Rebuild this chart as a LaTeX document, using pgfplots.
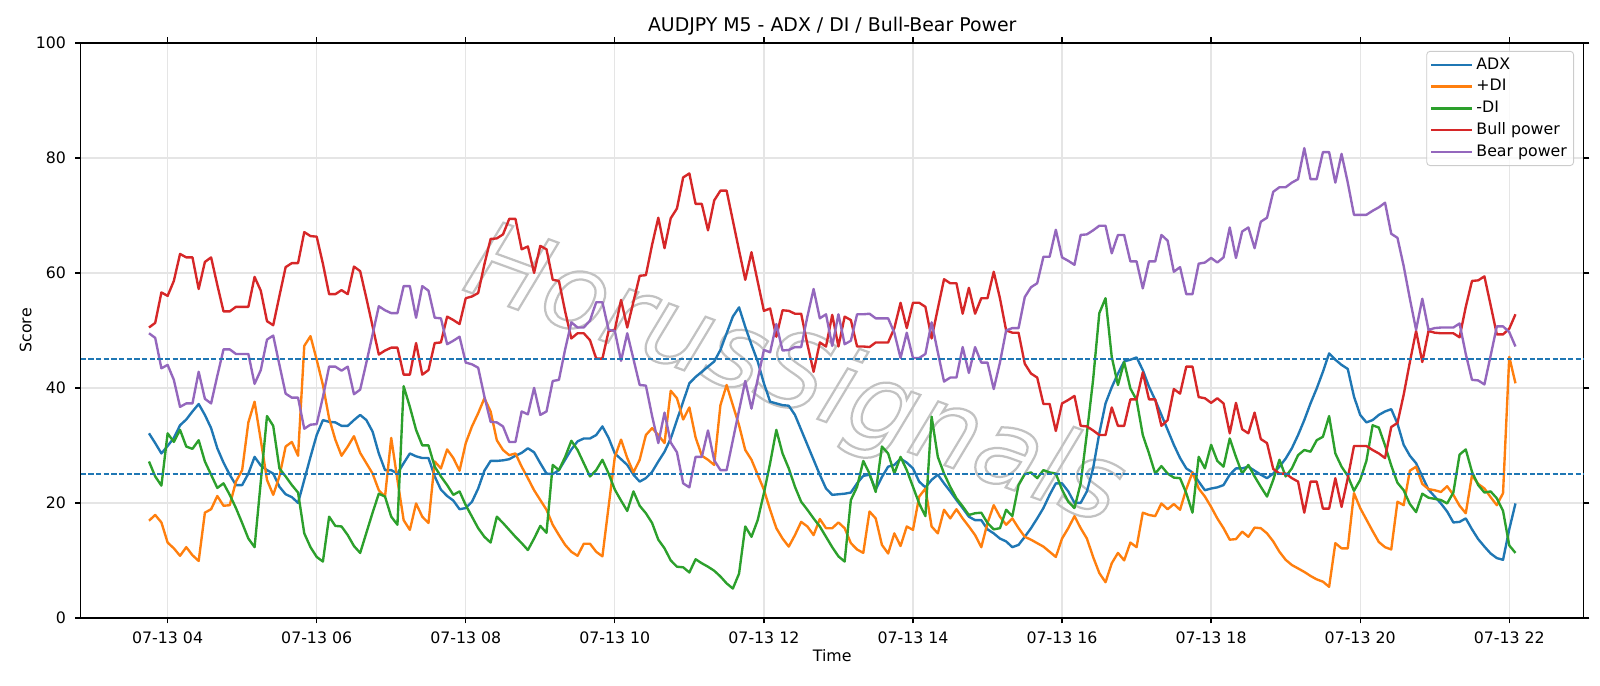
\documentclass[border=0pt]{standalone}
\usepackage{fontspec}
\setmainfont{DejaVu Sans}
\usepackage{pgfplots}
\pgfplotsset{compat=1.18}
\usepackage{pgfplotstable}
\definecolor{tabblue}{HTML}{1F77B4}
\definecolor{taborange}{HTML}{FF7F0E}
\definecolor{tabgreen}{HTML}{2CA02C}
\definecolor{tabred}{HTML}{D62728}
\definecolor{tabpurple}{HTML}{9467BD}

\pgfplotstableread{
i adx pdi mdi bull bear
0 32.1 16.9 27.2 50.5 49.5
1 30.4 17.9 24.6 51.3 48.7
2 28.6 16.6 23.0 56.6 43.4
3 29.9 13.1 32.1 56.0 44.0
4 31.3 12.1 30.6 58.6 41.4
5 33.5 10.8 32.7 63.3 36.7
6 34.5 12.3 29.8 62.7 37.3
7 35.9 10.9 29.4 62.7 37.3
8 37.2 9.9 30.9 57.2 42.8
9 35.3 18.3 27.2 61.9 38.1
10 33.0 18.9 24.9 62.7 37.3
11 29.5 21.2 22.6 57.9 42.1
12 27.0 19.5 23.4 53.3 46.7
13 24.9 19.6 21.4 53.3 46.7
14 23.1 23.7 19.1 54.1 45.9
15 23.1 25.7 16.5 54.1 45.9
16 25.1 34.0 13.8 54.1 45.9
17 28.0 37.6 12.3 59.3 40.7
18 26.5 30.9 23.7 56.9 43.1
19 25.7 24.0 35.1 51.6 48.4
20 25.1 21.4 33.4 50.9 49.1
21 22.8 24.6 26.0 56.0 44.0
22 21.5 29.8 24.6 61.0 39.0
23 21.0 30.6 23.1 61.7 38.3
24 20.0 28.2 21.8 61.7 38.3
25 24.0 47.3 14.7 67.1 32.9
26 28.0 49.0 12.3 66.4 33.6
27 31.8 44.9 10.6 66.3 33.7
28 34.4 40.5 9.8 61.6 38.4
29 34.1 34.7 17.6 56.3 43.7
30 34.0 31.0 16.0 56.3 43.7
31 33.4 28.2 15.9 57.0 43.0
32 33.4 29.8 14.4 56.3 43.7
33 34.4 31.6 12.5 61.1 38.9
34 35.3 28.7 11.3 60.3 39.7
35 34.4 26.9 14.8 55.6 44.4
36 32.4 25.1 18.3 50.7 49.3
37 28.6 22.2 21.6 45.8 54.2
38 25.7 21.1 21.1 46.5 53.5
39 25.7 31.3 17.6 47.0 53.0
40 25.1 24.0 16.2 47.0 53.0
41 26.9 17.0 40.3 42.3 57.7
42 28.6 15.3 36.7 42.3 57.7
43 28.1 19.9 32.7 47.8 52.2
44 27.8 17.6 30.0 42.3 57.7
45 27.8 16.5 30.0 43.1 56.9
46 24.6 27.2 26.3 47.8 52.2
47 22.3 26.0 24.6 47.9 52.1
48 21.2 29.3 23.1 52.4 47.6
49 20.4 27.8 21.4 51.8 48.2
50 18.9 25.6 22.0 51.1 48.9
51 19.1 30.4 19.6 55.6 44.4
52 20.2 33.3 17.6 55.9 44.1
53 22.5 35.6 15.6 56.5 43.5
54 25.6 38.2 14.1 61.5 38.5
55 27.3 35.9 13.1 65.9 34.1
56 27.3 30.9 17.6 66.0 34.0
57 27.4 29.2 16.5 66.7 33.3
58 27.6 28.3 15.3 69.4 30.6
59 28.2 28.6 14.1 69.4 30.6
60 28.7 26.3 13.0 64.1 35.9
61 29.5 24.3 11.8 64.6 35.4
62 28.8 22.2 13.8 60.0 40.0
63 26.9 20.5 16.0 64.7 35.3
64 25.1 18.8 14.8 64.1 35.9
65 25.0 16.2 26.6 58.8 41.2
66 25.7 14.4 25.7 58.6 41.4
67 27.5 12.7 28.0 53.3 46.7
68 29.3 11.5 30.8 48.6 51.4
69 30.7 10.8 29.2 49.5 50.5
70 31.2 12.9 26.9 49.5 50.5
71 31.2 12.9 24.6 48.3 51.7
72 31.8 11.5 25.7 45.1 54.9
73 33.3 10.7 27.5 45.1 54.9
74 31.3 19.4 25.1 49.9 50.1
75 28.6 28.0 22.3 50.1 49.9
76 27.6 31.0 20.4 55.3 44.7
77 26.6 27.8 18.6 50.5 49.5
78 24.9 25.3 22.0 55.0 45.0
79 23.7 27.5 19.5 59.5 40.5
80 24.3 31.8 18.2 59.6 40.4
81 25.4 33.0 16.5 64.9 35.1
82 27.2 31.8 13.6 69.6 30.4
83 28.9 30.4 12.1 64.3 35.7
84 31.2 39.5 10.0 69.5 30.5
85 34.4 38.2 8.9 71.2 28.8
86 37.6 34.5 8.8 76.6 23.4
87 40.8 36.6 7.9 77.3 22.7
88 41.9 31.4 10.2 72.0 28.0
89 42.8 28.2 9.5 72.0 28.0
90 43.7 27.5 8.9 67.4 32.6
91 44.6 26.6 8.2 72.6 27.4
92 46.6 37.0 7.2 74.3 25.7
93 49.5 40.5 6.0 74.3 25.7
94 52.4 37.0 5.1 69.1 30.9
95 54.0 33.5 7.7 63.9 36.1
96 50.6 29.2 15.9 58.8 41.2
97 47.5 27.5 14.1 63.6 36.4
98 44.6 24.9 17.0 58.5 41.5
99 40.8 22.3 21.7 53.4 46.6
100 37.6 18.8 26.9 53.8 46.2
101 37.3 15.6 32.7 48.9 51.1
102 37.0 13.8 28.6 53.5 46.5
103 36.9 12.4 26.0 53.4 46.6
104 35.3 14.4 22.8 52.9 47.1
105 32.7 16.7 20.2 52.9 47.1
106 30.1 15.9 18.8 47.6 52.4
107 27.5 14.4 17.3 42.8 57.2
108 24.9 17.2 15.9 47.9 52.1
109 22.5 15.6 14.1 47.2 52.8
110 21.4 15.6 12.3 52.7 47.3
111 21.5 16.6 10.7 47.2 52.8
112 21.6 15.6 9.8 52.4 47.6
113 21.8 13.0 20.5 51.8 48.2
114 23.4 11.9 22.8 47.2 52.8
115 24.7 11.3 27.3 47.2 52.8
116 24.9 18.5 25.1 47.1 52.9
117 22.3 17.3 21.9 47.9 52.1
118 24.5 12.7 29.8 47.9 52.1
119 26.3 11.2 28.6 47.9 52.1
120 26.6 14.7 25.1 50.4 49.6
121 27.7 12.5 28.0 54.8 45.2
122 27.0 15.9 25.7 50.4 49.6
123 26.0 15.3 22.8 54.8 45.2
124 23.7 21.1 19.9 54.8 45.2
125 22.7 22.5 17.7 54.1 45.9
126 24.0 15.9 35.0 48.6 51.4
127 24.9 14.7 28.0 53.8 46.2
128 23.4 18.8 25.1 58.9 41.1
129 22.0 17.3 22.8 58.2 41.8
130 20.5 18.9 20.8 58.2 41.8
131 19.1 17.3 19.4 52.9 47.1
132 17.6 15.9 17.9 57.4 42.6
133 17.0 14.4 18.2 52.9 47.1
134 17.0 12.3 18.3 55.6 44.4
135 15.4 16.5 16.5 55.6 44.4
136 14.7 19.6 15.4 60.2 39.8
137 13.8 17.6 15.6 55.6 44.4
138 13.3 16.2 18.8 50.0 50.0
139 12.3 17.3 17.7 49.6 50.4
140 12.7 15.6 23.1 49.6 50.4
141 14.1 14.1 25.0 44.2 55.8
142 15.6 13.6 25.3 42.5 57.5
143 17.3 13.0 24.3 41.8 58.2
144 19.1 12.4 25.7 37.2 62.8
145 21.4 11.5 25.3 37.2 62.8
146 23.4 10.6 25.1 32.5 67.5
147 23.4 13.8 22.3 37.3 62.7
148 22.0 15.6 20.2 37.9 62.1
149 20.0 17.7 19.1 38.6 61.4
150 20.0 15.6 23.4 33.4 66.6
151 22.0 13.8 32.1 33.3 66.7
152 26.0 10.6 41.4 32.6 67.4
153 32.1 7.8 53.0 31.8 68.2
154 37.3 6.2 55.6 31.8 68.2
155 40.1 9.5 45.4 36.6 63.4
156 42.5 11.3 40.5 33.4 66.6
157 44.6 10.0 44.5 33.4 66.6
158 44.9 13.1 39.9 38.0 62.0
159 45.3 12.3 37.9 38.0 62.0
160 43.1 18.3 31.8 42.7 57.3
161 40.2 17.9 28.6 38.0 62.0
162 37.9 17.7 25.1 38.0 62.0
163 35.3 19.9 26.4 33.4 66.6
164 32.7 18.9 25.1 34.4 65.6
165 30.1 19.8 24.4 39.8 60.2
166 27.8 18.8 24.3 39.0 61.0
167 26.0 22.4 21.7 43.7 56.3
168 25.3 25.3 18.3 43.7 56.3
169 23.7 22.5 28.0 38.4 61.6
170 22.2 21.1 26.0 38.2 61.8
171 22.5 19.3 30.1 37.4 62.6
172 22.7 17.3 27.3 38.2 61.8
173 23.1 15.6 26.3 37.3 62.7
174 24.9 13.6 31.2 32.1 67.9
175 26.0 13.7 28.0 37.4 62.6
176 26.0 15.0 25.1 32.8 67.2
177 26.3 14.1 26.6 32.1 67.9
178 25.6 15.7 24.6 35.7 64.3
179 24.9 15.6 22.8 31.1 68.9
180 24.3 14.7 21.1 30.4 69.6
181 25.1 13.3 24.0 25.9 74.1
182 26.3 11.5 27.5 25.1 74.9
183 27.7 10.1 24.6 25.1 74.9
184 29.5 9.2 26.0 24.3 75.7
185 31.8 8.6 28.3 23.7 76.3
186 34.4 8.0 29.2 18.3 81.7
187 37.3 7.3 28.9 23.7 76.3
188 39.9 6.7 30.9 23.7 76.3
189 42.8 6.3 31.5 19.0 81.0
190 46.0 5.4 35.1 19.0 81.0
191 44.9 13.0 28.6 24.3 75.7
192 44.0 12.1 26.3 19.3 80.7
193 43.3 12.1 24.7 24.3 75.7
194 38.5 21.7 22.1 29.9 70.1
195 35.3 19.1 24.0 29.9 70.1
196 34.0 17.1 27.3 29.9 70.1
197 34.4 15.1 33.5 29.2 70.8
198 35.3 13.2 33.1 28.6 71.4
199 35.9 12.3 30.0 27.8 72.2
200 36.3 11.9 26.5 33.2 66.8
201 33.8 20.2 23.5 33.9 66.1
202 30.1 19.6 22.2 38.8 61.2
203 28.2 25.6 19.8 44.5 55.5
204 26.9 26.3 18.4 49.9 50.1
205 24.6 23.3 21.6 44.5 55.5
206 22.3 22.4 20.9 49.9 50.1
207 21.1 22.2 20.7 49.6 50.4
208 19.9 21.9 20.5 49.5 50.5
209 18.5 22.9 19.9 49.5 50.5
210 16.6 21.4 21.8 49.5 50.5
211 16.7 19.5 28.4 48.8 51.2
212 17.3 18.2 29.3 54.1 45.9
213 15.4 24.8 25.4 58.6 41.4
214 13.7 23.3 23.1 58.7 41.3
215 12.4 22.5 21.8 59.4 40.6
216 11.2 21.0 22.0 54.4 45.6
217 10.4 19.6 20.8 49.3 50.7
218 10.1 21.7 18.6 49.3 50.7
219 15.4 45.4 12.6 50.3 49.7
220 19.9 40.8 11.3 52.8 47.2
}\data

\begin{document}
\begin{tikzpicture}
\path[use as bounding box] (-36.3pt,-30.6pt) rectangle (683.7pt,278.05pt);
\begin{axis}[
  at={(0pt,0pt)}, anchor=south west,
  scale only axis, width=676.4pt, height=258.75pt,
  xmin=-11, xmax=231, ymin=0, ymax=100,
  xtick={3,27,51,75,99,123,147,171,195,219},
  xticklabels={07-13 04,07-13 06,07-13 08,07-13 10,07-13 12,07-13 14,07-13 16,07-13 18,07-13 20,07-13 22},
  ytick={0,20,40,60,80,100},
  tick align=outside, major tick length=2.5pt,
  tick style={black, line width=0.57pt},
  axis line style={black, line width=0.57pt},
  grid=major, major grid style={color=black!10, line width=0.57pt},
  ticklabel style={font=\fontsize{7.1}{8.5}\selectfont},
  yticklabel style={xshift=-0.6pt},
  /pgf/number format/assume math mode=true,
  every axis plot/.append style={line width=1.07pt, line join=round},
  legend cell align=left,
  legend image code/.code={\draw[#1] (0cm,0cm) -- (0.53cm,0cm); \path (0.53cm,0cm) -- (0.53cm+3.2pt,0cm);},
  legend style={at={(1,1)}, anchor=north east, xshift=-4.4pt, yshift=-3.6pt,
    draw=black!20, rounded corners=1.5pt, fill=white, fill opacity=0.8, text opacity=1,
    font=\fontsize{7.1}{8.5}\selectfont, inner xsep=1.5pt, inner ysep=1.2pt, row sep=0pt,
    nodes={inner sep=1.5pt, text height=5.3pt, text depth=1.5pt}},
]
\node[rotate=-20, text=black!24, font=\fontsize{47.5}{47.5}\selectfont\itshape] at (axis cs:103.8,41.5)
  {\special{pdf:literal direct 1 Tr 1.0 w}HorusSignals\special{pdf:literal direct 0 Tr}};
\addplot[tabblue] table[x=i, y=adx] {\data};
\addlegendentry{ADX}
\addplot[taborange] table[x=i, y=pdi] {\data};
\addlegendentry{+DI}
\addplot[tabgreen] table[x=i, y=mdi] {\data};
\addlegendentry{-DI}
\addplot[tabred] table[x=i, y=bull] {\data};
\addlegendentry{Bull power}
\addplot[tabpurple] table[x=i, y=bear] {\data};
\addlegendentry{Bear power}
\addplot[forget plot, tabblue, line width=0.71pt, dash pattern=on 2.4pt off 1.05pt] coordinates {(-11,45) (231,45)};
\addplot[forget plot, tabblue, line width=0.71pt, dash pattern=on 2.4pt off 1.05pt] coordinates {(-11,25) (231,25)};
\end{axis}
\node[font=\fontsize{8.5}{10}\selectfont] at (338.2pt,266.2pt) {AUDJPY M5 - ADX / DI / Bull-Bear Power};
\node[font=\fontsize{7.1}{8.5}\selectfont] at (338.2pt,-17.1pt) {Time};
\node[font=\fontsize{7.1}{8.5}\selectfont, rotate=90] at (-24.8pt,129.4pt) {Score};
\end{tikzpicture}
\end{document}
